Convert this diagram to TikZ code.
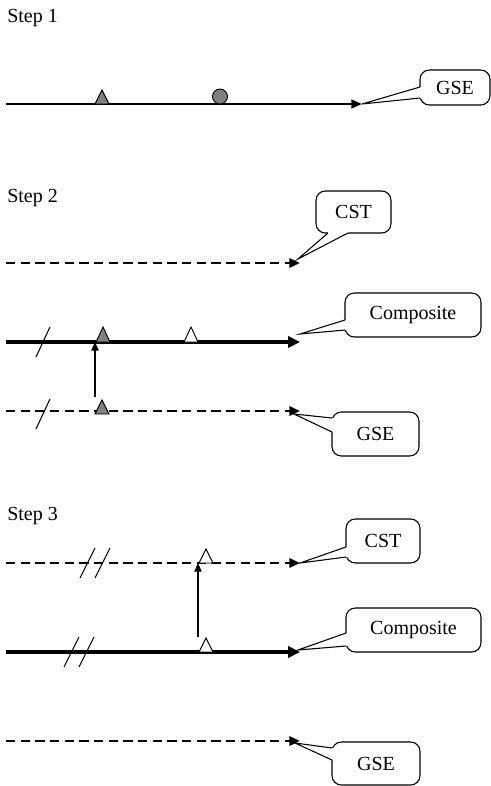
\documentclass[tikz,border=0pt]{standalone}
\usepackage{fontspec}
\setmainfont{Liberation Serif}
\usetikzlibrary{arrows.meta,calc}

% pointer of a speech-bubble box: #1,#2 points on the box border, #3 tip,
% #4 small shift into the box so that the border between #1 and #2 is hidden
\newcommand\calloutpointer[4]{%
  \fill[white] ($(#1)+#4$) -- (#1) -- (#3) -- (#2) -- ($(#2)+#4$) -- cycle;
  \draw[thinline] (#1) -- (#3) -- (#2);}

\begin{document}
\begin{tikzpicture}[x=0.75pt,y=-0.75pt,
  font=\fontsize{15pt}{18pt}\selectfont,
  thinline/.style={line width=0.8pt, line join=miter},
  callout/.style={draw, fill=white, line width=0.8pt, rounded corners=7pt,
    inner sep=0pt, outer sep=0pt},
  solidline/.style={line width=1.8pt, -{Triangle[length=8pt,width=6.5pt]}},
  thickline/.style={line width=2.8pt, -{Triangle[length=9pt,width=8.5pt]}},
  dashline/.style={line width=1.8pt, dash pattern=on 7pt off 4pt,
    -{Triangle[length=8pt,width=7pt]}},
  link/.style={line width=1pt, -{Triangle[length=6.5pt,width=5.5pt]}},
  slash/.style={line width=0.8pt},
  fullmark/.style={fill=black!50, draw=black, line width=0.7pt, line join=miter},
  openmark/.style={fill=white, draw=black, line width=0.7pt, line join=miter},
  steplabel/.style={anchor=base west, inner sep=0pt}]

\useasboundingbox (0,0) rectangle (491,786);

% ---------------- Step 1 ----------------
\node[steplabel] (l1) at (7,22.5) {Step 1};
\coordinate (s1a) at (6,104);
\coordinate (s1b) at (362,104);
\draw[solidline] (s1a) -- (s1b);
\filldraw[fullmark] (95,104) -- (102,90) -- (109,104) -- cycle;
\filldraw[fullmark] (220,96.5) circle [radius=7.5];

\node[callout, minimum width=52.5pt, minimum height=26.25pt] (b1) at (455,87.5) {GSE};
\coordinate (b1p) at ($(b1.north west)+(0,17)$);
\coordinate (b1q) at ($(b1.north west)+(0,28)$);
\calloutpointer{b1p}{b1q}{s1b}{(1.5,0)}

% ---------------- Step 2 ----------------
\node[steplabel] (l2) at (7,202.5) {Step 2};
\coordinate (c2a) at (6,263);   \coordinate (c2b) at (300,263);
\coordinate (m2a) at (6,342);   \coordinate (m2b) at (300,342);
\coordinate (g2a) at (6,411);   \coordinate (g2b) at (300,411);
\draw[dashline] (c2a) -- (c2b);
\draw[thickline] (m2a) -- (m2b);
\draw[dashline] (g2a) -- (g2b);

% cut marks
\draw[slash] (36,357) -- (50,327);
\draw[slash] (36,429) -- (50,399);

% markers
\filldraw[fullmark] (96,342) -- (103,327) -- (110,342) -- cycle;
\filldraw[openmark] (184,342) -- (191,327) -- (198,342) -- cycle;
\filldraw[fullmark] (95,414) -- (102,400) -- (109,414) -- cycle;

% transfer from GSE to composite
\coordinate (v2a) at (95,397);
\coordinate (v2b) at (95,342);
\draw[link] (v2a) -- (v2b);

\node[callout, minimum width=56.25pt, minimum height=31.5pt] (b2) at (353.5,212) {CST};
\coordinate (b2p) at ($(b2.south west)+(12,0)$);
\coordinate (b2q) at ($(b2.south west)+(32,0)$);
\coordinate (t2) at (298,259);
\calloutpointer{b2p}{b2q}{t2}{(0,-1.5)}

\node[callout, minimum width=102pt, minimum height=33pt] (b3) at (413,315) {Composite};
\coordinate (b3p) at ($(b3.north west)+(0,27)$);
\coordinate (b3q) at ($(b3.north west)+(0,37)$);
\coordinate (t3) at (300,334);
\calloutpointer{b3p}{b3q}{t3}{(1.5,0)}

\node[callout, minimum width=65.25pt, minimum height=33pt] (b4) at (375.5,434) {GSE};
\coordinate (b4p) at ($(b4.north west)+(0,6)$);
\coordinate (b4q) at ($(b4.north west)+(0,20)$);
\coordinate (t4) at (294,414);
\calloutpointer{b4p}{b4q}{t4}{(2.5,0)}

% ---------------- Step 3 ----------------
\node[steplabel] (l3) at (7,520.5) {Step 3};
\coordinate (c3a) at (6,563);   \coordinate (c3b) at (300,563);
\coordinate (m3a) at (6,652);   \coordinate (m3b) at (300,652);
\coordinate (g3a) at (6,741);   \coordinate (g3b) at (300,741);
\draw[dashline] (c3a) -- (c3b);
\draw[thickline] (m3a) -- (m3b);
\draw[dashline] (g3a) -- (g3b);

% double cut marks
\draw[slash] (80,578) -- (95,548);
\draw[slash] (95,578) -- (110,548);
\draw[slash] (64,667) -- (79,637);
\draw[slash] (79,667) -- (94,637);

% markers
\filldraw[openmark] (199,563) -- (206,549) -- (213,563) -- cycle;
\filldraw[openmark] (199,652) -- (206,638) -- (213,652) -- cycle;

% transfer from composite to CST
\coordinate (v3a) at (198,637);
\coordinate (v3b) at (198,563);
\draw[link] (v3a) -- (v3b);

\node[callout, minimum width=55.5pt, minimum height=33pt] (b5) at (383,541) {CST};
\coordinate (b5p) at ($(b5.north west)+(0,28)$);
\coordinate (b5q) at ($(b5.north west)+(0,38)$);
\calloutpointer{b5p}{b5q}{c3b}{(1.5,0)}

\node[callout, minimum width=101.25pt, minimum height=33pt] (b6) at (413.5,630) {Composite};
\coordinate (b6p) at ($(b6.north west)+(0,25)$);
\coordinate (b6q) at ($(b6.north west)+(0,38)$);
\coordinate (t6) at (298,650);
\calloutpointer{b6p}{b6q}{t6}{(1.5,0)}

\node[callout, minimum width=66pt, minimum height=32.25pt] (b7) at (376,763.5) {GSE};
\coordinate (b7p) at ($(b7.north west)+(0,6)$);
\coordinate (b7q) at ($(b7.north west)+(0,18)$);
\coordinate (t7) at (295,743);
\calloutpointer{b7p}{b7q}{t7}{(2.5,0)}

\end{tikzpicture}
\end{document}
